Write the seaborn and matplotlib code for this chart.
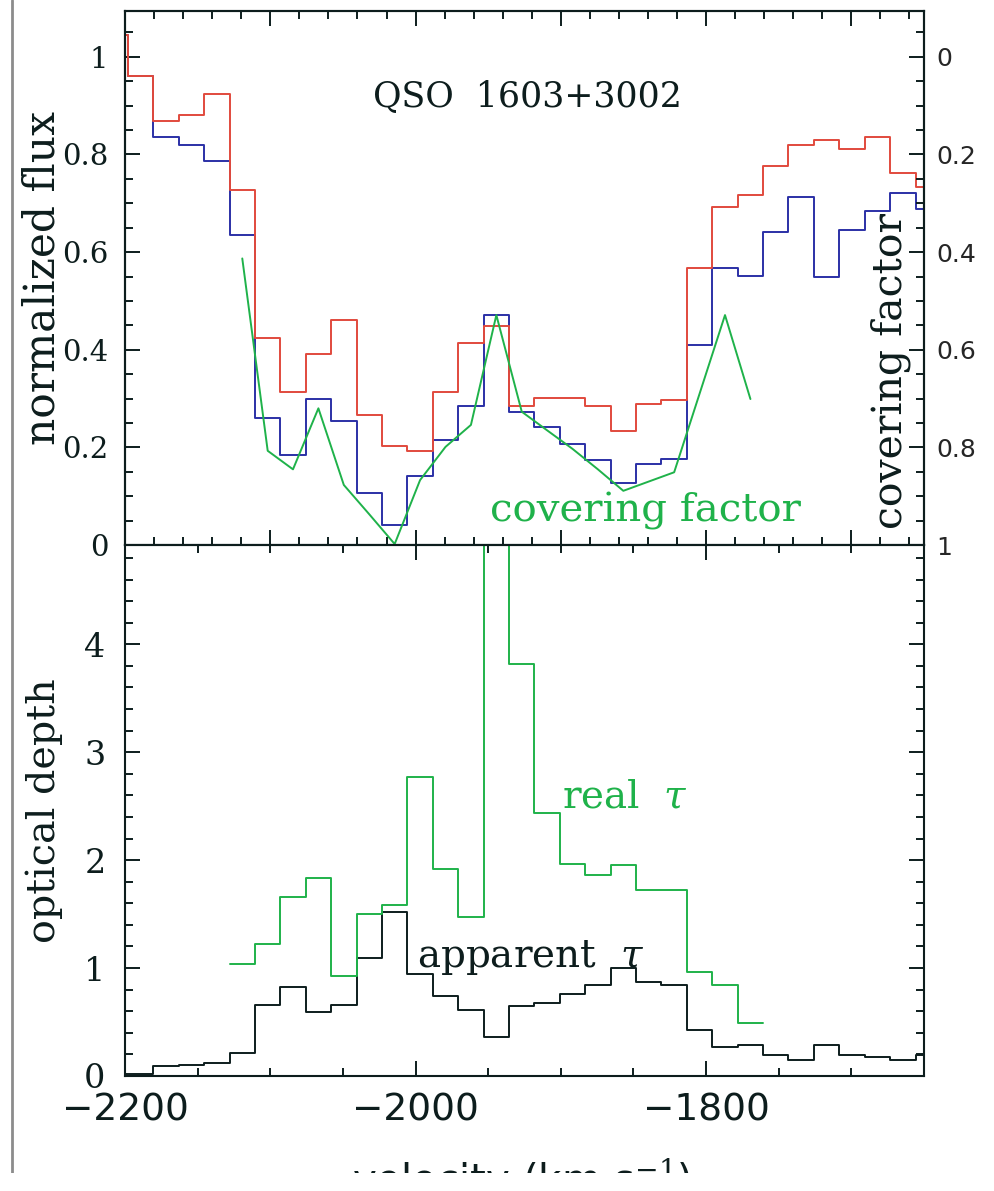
import numpy as np
import pandas as pd
import matplotlib
matplotlib.use("Agg")
import matplotlib.pyplot as plt
from matplotlib.ticker import MultipleLocator
from matplotlib.lines import Line2D
from matplotlib.patches import Rectangle
import seaborn as sns

# bin centres (km/s), one bin beyond each axis limit
VELOCITY = [-2206.8, -2189.3, -2171.8, -2154.3, -2136.8, -2119.3, -2101.8,
            -2084.4, -2066.9, -2049.4, -2031.9, -2014.4, -1996.9, -1979.4,
            -1961.9, -1944.4, -1926.9, -1909.5, -1892.0, -1874.5, -1857.0,
            -1839.5, -1822.0, -1804.5, -1787.0, -1769.5, -1752.0, -1734.6,
            -1717.1, -1699.6, -1682.1, -1664.6, -1647.1]
FLUX_RED = [1.045, 0.961, 0.869, 0.880, 0.923, 0.727, 0.425, 0.313, 0.392,
            0.460, 0.266, 0.203, 0.193, 0.314, 0.414, 0.449, 0.285, 0.302,
            0.302, 0.284, 0.233, 0.288, 0.297, 0.568, 0.692, 0.716, 0.776,
            0.820, 0.830, 0.811, 0.835, 0.762, 0.733]
FLUX_BLUE = [1.045, 0.961, 0.836, 0.820, 0.786, 0.636, 0.260, 0.185, 0.299,
             0.255, 0.107, 0.041, 0.142, 0.216, 0.285, 0.471, 0.272, 0.242,
             0.207, 0.175, 0.128, 0.165, 0.176, 0.410, 0.568, 0.552, 0.641,
             0.713, 0.548, 0.646, 0.685, 0.722, 0.689]
TAU_APPARENT = [0.02, 0.02, 0.09, 0.10, 0.12, 0.215, 0.662, 0.828, 0.589,
                0.662, 1.092, 1.523, 0.943, 0.744, 0.613, 0.364, 0.646, 0.678,
                0.761, 0.844, 1.003, 0.870, 0.844, 0.430, 0.272, 0.288, 0.198,
                0.149, 0.291, 0.198, 0.175, 0.149, 0.19]
# fitted bins only (-2119 .. -1770 km/s)
FIT_VELOCITY = VELOCITY[5:26]
COVERING = [0.413, 0.807, 0.845, 0.720, 0.877, 0.937, 0.998, 0.867, 0.799,
            0.754, 0.529, 0.727, 0.765, 0.803, 0.845, 0.889, 0.870, 0.851,
            0.690, 0.529, 0.701]
TAU_REAL = [1.036, 1.224, 1.655, 1.837, 0.927, 1.50, 1.582, 2.77, 1.92,
            1.473, 9.0, 3.813, 2.433, 1.963, 1.864, 1.953, 1.727, 1.727,
            0.967, 0.844, 0.489]

RED = "#e14a3d"
BLUE = "#2b30a6"
GREEN = "#1fb24a"
INK = "#0d1d1d"
SERIF = ["DejaVu Serif"]

sns.set_theme(style="ticks")
plt.rcParams["font.family"] = ["DejaVu Sans"]
plt.rcParams["mathtext.fontset"] = "dejavuserif"
plt.rcParams["axes.edgecolor"] = INK
plt.rcParams["axes.linewidth"] = 1.5

half = 0.5 * np.diff(VELOCITY).mean()


def steps(ax, x, y, color):
    df = pd.DataFrame({"v": x, "w": y})
    edges = list(df["v"] - half) + [df["v"].iloc[-1] + half]
    sns.histplot(data=df, x="v", weights="w", bins=edges, element="step",
                 fill=False, color=color, linewidth=1.4, ax=ax)


def style_ticks(ax, **kw):
    ax.tick_params(which="both", direction="in", color=INK, width=1.4, **kw)
    ax.tick_params(which="major", length=11)
    ax.tick_params(which="minor", length=6)


fig = plt.figure(figsize=(9.94, 11.91), dpi=100)
ax_top = fig.add_axes([0.1258, 0.5424, 0.8038, 0.4484])
ax_bot = fig.add_axes([0.1258, 0.0966, 0.8038, 0.4458])

# ---- top panel: normalized flux + covering factor
steps(ax_top, VELOCITY, FLUX_BLUE, BLUE)
steps(ax_top, VELOCITY, FLUX_RED, RED)
ax_top.set_xlim(-2200, -1650)
ax_top.set_ylim(0, 1.094)
ax_top.xaxis.set_major_locator(MultipleLocator(100))
ax_top.xaxis.set_minor_locator(MultipleLocator(20))
ax_top.set_yticks([0, 0.2, 0.4, 0.6, 0.8, 1.0])
ax_top.set_yticklabels(["0", "0.2", "0.4", "0.6", "0.8", "1"],
                       family=SERIF, fontsize=21)
ax_top.yaxis.set_minor_locator(MultipleLocator(0.05))
style_ticks(ax_top, top=True, bottom=True, left=True, right=False,
            labelbottom=False, pad=12)
ax_top.set_xlabel("")
ax_top.set_ylabel("normalized flux", family=SERIF, fontsize=30.5, color=INK)
ax_top.yaxis.set_label_coords(-0.077, 0.5)

twin = ax_top.twinx()
sns.lineplot(x=FIT_VELOCITY, y=COVERING, color=GREEN, linewidth=1.4, ax=twin)
twin.set_ylim(1, -0.094)
twin.set_yticks([0, 0.2, 0.4, 0.6, 0.8, 1.0])
twin.set_yticklabels(["0", "0.2", "0.4", "0.6", "0.8", "1"], fontsize=18)
twin.yaxis.set_minor_locator(MultipleLocator(0.05))
style_ticks(twin, left=False, right=True, labelright=True, pad=9)
twin.set_ylabel("")
twin.text(0.958, 0.3255, "covering factor", transform=twin.transAxes,
          rotation=90, ha="center", va="center", family=SERIF, fontsize=29.5,
          color=INK)

ax_top.text(-2029.3, 0.898, "QSO  1603+3002", family=SERIF, fontsize=25,
            color=INK, ha="left", va="baseline")
ax_top.text(-1948.7, 0.048, "covering factor", family=SERIF, fontsize=29,
            color=GREEN, ha="left", va="baseline")

# ---- bottom panel: optical depth
steps(ax_bot, VELOCITY, TAU_APPARENT, INK)
steps(ax_bot, FIT_VELOCITY, TAU_REAL, GREEN)
ax_bot.set_xlim(-2200, -1650)
ax_bot.set_ylim(0, 4.92)
ax_bot.xaxis.set_major_locator(MultipleLocator(200))
ax_bot.xaxis.set_minor_locator(MultipleLocator(50))
ax_bot.yaxis.set_major_locator(MultipleLocator(1))
ax_bot.yaxis.set_minor_locator(MultipleLocator(0.2))
style_ticks(ax_bot, top=True, bottom=True, left=True, right=True,
            labelright=False, labeltop=False)
ax_bot.tick_params(axis="y", pad=14)
ax_bot.tick_params(axis="x", pad=12)
for lab in ax_bot.get_yticklabels():
    lab.set_family(SERIF)
    lab.set_fontsize(24)
for lab in ax_bot.get_xticklabels():
    lab.set_fontsize(27)
ax_bot.set_xlabel("")
ax_bot.set_ylabel("optical depth", family=SERIF, fontsize=28.5, color=INK)
ax_bot.yaxis.set_label_coords(-0.078, 0.5)

ax_bot.text(-1899.1, 2.48, r"real  $\tau$", family=SERIF, fontsize=28,
            color=GREEN, ha="left", va="baseline")
ax_bot.text(-1999.0, 1.009, r"apparent  $\tau$", family=SERIF, fontsize=28,
            color=INK, ha="left", va="baseline")

for ax in (ax_top, ax_bot):
    for lab in ax.get_xticklabels() + ax.get_yticklabels():
        lab.set_color(INK)

fig.text(522 / 994, 1 - 1156 / 1191, r"velocity (km s$^{-1}$)",
         ha="center", va="top", fontsize=29, color=INK)
# the source page is cropped through the axis title
fig.add_artist(Rectangle((0, 0), 1, 18 / 1191, transform=fig.transFigure,
                         facecolor="white", edgecolor="none", zorder=10))
fig.add_artist(Line2D([0.0118, 0.0118], [0, 1], transform=fig.transFigure,
                      color="#8c8c8c", linewidth=2))

fig.savefig("out.png", dpi=100)
